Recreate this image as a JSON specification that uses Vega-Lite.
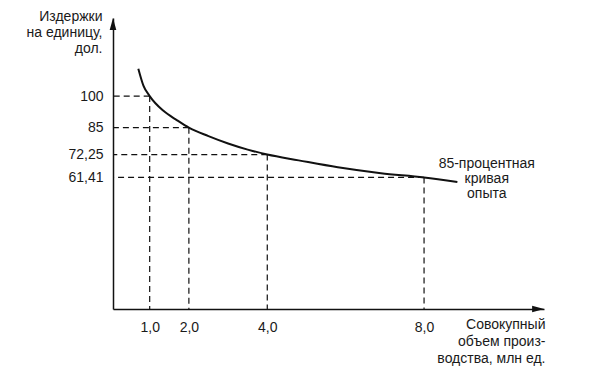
{
  "$schema": "https://vega.github.io/schema/vega-lite/v6.json",
  "width": 431,
  "height": 291,
  "autosize": "none",
  "padding": {"left": 113, "top": 18, "right": 56, "bottom": 62},
  "background": "white",
  "config": {
    "view": {"stroke": null},
    "font": "Liberation Sans",
    "axis": {
      "grid": false,
      "ticks": false,
      "tickSize": 0,
      "domainColor": "#111111",
      "domainWidth": 1.5,
      "labelFont": "Liberation Sans",
      "labelFontSize": 14,
      "labelColor": "#1a1a1a",
      "labelOverlap": false,
      "labelFlush": false,
      "titleFont": "Liberation Sans",
      "titleFontSize": 14,
      "titleFontWeight": "normal",
      "titleColor": "#1a1a1a",
      "titleAngle": 0
    }
  },
  "datasets": {
    "curve": [
      {"x": 0.71, "y": 113},
      {"x": 0.84, "y": 105},
      {"x": 1.0, "y": 100},
      {"x": 1.35, "y": 93},
      {"x": 1.7, "y": 88.5},
      {"x": 2.0, "y": 85},
      {"x": 2.5, "y": 81},
      {"x": 3.0, "y": 77.5},
      {"x": 3.5, "y": 74.6},
      {"x": 4.0, "y": 72.25},
      {"x": 4.8, "y": 69.5},
      {"x": 5.8, "y": 66.2},
      {"x": 6.9, "y": 63.4},
      {"x": 8.0, "y": 61.41},
      {"x": 8.85, "y": 59.2}
    ],
    "guides": [
      {"x": 1, "y": 100},
      {"x": 2, "y": 85},
      {"x": 4, "y": 72.25},
      {"x": 8, "y": 61.41}
    ]
  },
  "layer": [
    {
      "data": {"name": "curve"},
      "mark": {"type": "line", "interpolate": "monotone", "color": "#111111", "strokeWidth": 2},
      "encoding": {
        "x": {
          "field": "x",
          "type": "quantitative",
          "scale": {"domain": [0.064, 11.06], "nice": false, "zero": false},
          "axis": {
            "values": [1, 2, 4, 8],
            "labelExpr": "replace(format(datum.value, '.1f'), '.', ',')",
            "labelBaseline": "top",
            "labelPadding": 11,
            "title": ["Совокупный", "объем произ-", "водства, млн ед."],
            "titleAlign": "right",
            "titleBaseline": "alphabetic",
            "titleLineHeight": 17,
            "titleX": 432,
            "titleY": 19
          }
        },
        "y": {
          "field": "y",
          "type": "quantitative",
          "scale": {"domain": [-1.04, 137.06], "nice": false, "zero": false},
          "axis": {
            "values": [61.41, 72.25, 85, 100],
            "labelExpr": "replace(format(datum.value, '.2~f'), '.', ',')",
            "labelPadding": 10,
            "title": ["Издержки", "на единицу,", "дол."],
            "titleAlign": "right",
            "titleBaseline": "alphabetic",
            "titleLineHeight": 16,
            "titleX": -11,
            "titleY": 2
          }
        }
      }
    },
    {
      "data": {"name": "guides"},
      "mark": {"type": "rule", "strokeDash": [6, 4], "strokeWidth": 1.2, "color": "#111111"},
      "encoding": {
        "x": {"field": "x", "type": "quantitative"},
        "x2": {"datum": 0.064},
        "y": {"field": "y", "type": "quantitative"}
      }
    },
    {
      "data": {"name": "guides"},
      "mark": {"type": "rule", "strokeDash": [6, 4], "strokeWidth": 1.2, "color": "#111111"},
      "encoding": {
        "x": {"field": "x", "type": "quantitative"},
        "y": {"field": "y", "type": "quantitative"},
        "y2": {"datum": -1.04}
      }
    },
    {
      "data": {"values": [{"label": "85-процентная\nкривая\nопыта", "ax": 0.064, "ay": 134.2, "bx": 10.91, "by": -1.04, "lx": 9.6, "ly": 65.7}]},
      "layer": [
        {
          "mark": {"type": "point", "shape": "M0,-1L0.55,1L-0.55,1Z", "size": 144, "filled": true, "color": "#111111", "opacity": 1},
          "encoding": {
            "x": {"field": "ax", "type": "quantitative"},
            "y": {"field": "ay", "type": "quantitative"}
          }
        },
        {
          "mark": {"type": "point", "shape": "M1,0L-1,0.55L-1,-0.55Z", "size": 144, "filled": true, "color": "#111111", "opacity": 1},
          "encoding": {
            "x": {"field": "bx", "type": "quantitative"},
            "y": {"field": "by", "type": "quantitative"}
          }
        },
        {
          "mark": {"type": "text", "align": "center", "baseline": "alphabetic", "lineBreak": "\n", "lineHeight": 15, "fontSize": 14, "font": "Liberation Sans", "color": "#1a1a1a"},
          "encoding": {
            "x": {"field": "lx", "type": "quantitative"},
            "y": {"field": "ly", "type": "quantitative"},
            "text": {"field": "label"}
          }
        }
      ]
    }
  ]
}
